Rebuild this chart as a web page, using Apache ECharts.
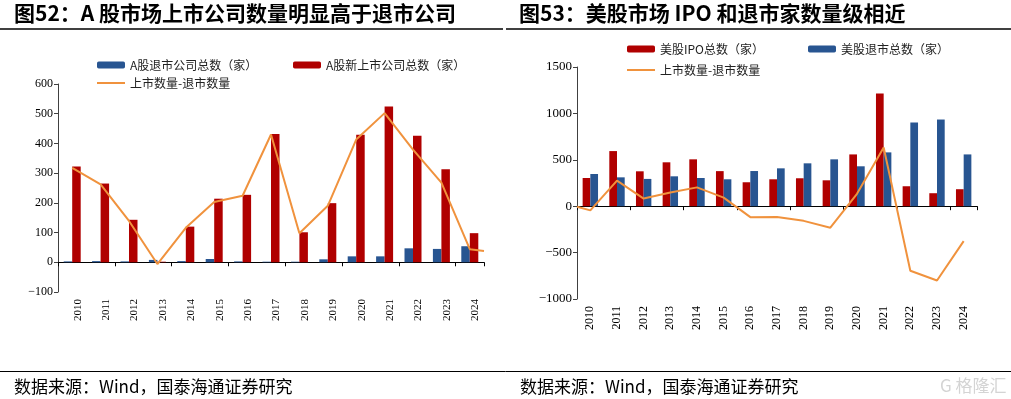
<!DOCTYPE html>
<html>
<head>
<meta charset="utf-8">
<script src="https://cdn.jsdelivr.net/npm/echarts@6/dist/echarts.min.js"></script>
<style>
  html, body { margin: 0; padding: 0; background: #fff; }
  #chart { width: 1011px; height: 399px; }
</style>
</head>
<body>
<div id="chart"></div>
<script>
  // 年份
  let years = ['2010', '2011', '2012', '2013', '2014', '2015', '2016', '2017', '2018', '2019', '2020', '2021', '2022', '2023', '2024']
  let yearNum = [2010, 2011, 2012, 2013, 2014, 2015, 2016, 2017, 2018, 2019, 2020, 2021, 2022, 2023, 2024]

  // 图52 A股
  let aDelist = [3, 4, 3, 8, 4, 11, 3, 2, 2, 10, 20, 20, 47, 45, 54]
  let aNew = [322, 265, 143, 2, 120, 214, 227, 432, 101, 199, 429, 524, 426, 313, 98]
  let aDiff = [318, 262, 139, -6, 116, 203, 224, 430, 98, 190, 413, 502, 379, 268, 44]
  let aDiffTail = [[2024.5, 38]]

  // 图53 美股
  let usIpo = [304, 594, 376, 473, 505, 378, 258, 290, 301, 279, 558, 1214, 215, 140, 183]
  let usDelist = [347, 311, 294, 322, 304, 290, 379, 408, 462, 505, 430, 580, 902, 934, 558]
  let usDiff = [-45, 276, 82, 148, 203, 92, -118, -116, -158, -232, 134, 632, -695, -800, -376]
  let usDiffHead = [[2009.5, -6]]

  let RED = '#b00000'
  let BLUE = '#285591'
  let ORANGE = '#f0923d'
  let CJK = '"Noto Sans CJK SC", sans-serif'
  let SERIF = '"Liberation Serif", serif'

  function minus (v) {
    return String(v).replace('-', '\u2212')
  }

  function catAxis (grid, fontSize, vAlign) {
    return [{
      type: 'category',
      gridIndex: grid,
      data: years,
      position: 'bottom',
      axisLine: { onZero: true, lineStyle: { color: '#000', width: 1 } },
      axisTick: { show: true, length: 4, lineStyle: { color: '#000' } },
      axisLabel: { show: false },
      splitLine: { show: false }
    }, {
      type: 'category',
      gridIndex: grid,
      data: years,
      position: 'bottom',
      axisLine: { show: false, onZero: false },
      axisTick: { show: false },
      axisLabel: {
        show: true,
        rotate: 90,
        margin: 7,
        color: '#000',
        fontFamily: SERIF,
        fontSize: fontSize,
        verticalAlign: vAlign
      }
    }, {
      type: 'value',
      gridIndex: grid,
      min: 2009.5,
      max: 2024.5,
      show: false
    }]
  }

  function valAxis (grid, min, max, step, fontSize) {
    return {
      type: 'value',
      gridIndex: grid,
      min: min,
      max: max,
      interval: step,
      axisLine: { show: true, lineStyle: { color: '#404040' } },
      axisTick: { show: true, length: 4, lineStyle: { color: '#404040' } },
      splitLine: { show: false },
      axisLabel: {
        color: '#000',
        fontFamily: SERIF,
        fontSize: fontSize,
        margin: 5,
        formatter: minus
      }
    }
  }

  function initChart () {
    let myChart = echarts.init(document.getElementById('chart'))
    let legendText = { color: '#222', fontFamily: CJK, fontSize: 12 }

    let option = {
      animation: false,
      backgroundColor: '#fff',
      grid: [
        { left: 58, top: 84, width: 426, height: 208 },
        { left: 577, top: 67, width: 400, height: 232 }
      ],
      xAxis: catAxis(0, 11, 'top').concat(catAxis(1, 12, 'middle')),
      yAxis: [
        valAxis(0, -100, 600, 100, 12),
        valAxis(1, -1000, 1500, 500, 13)
      ],
      legend: [
        { left: 92, top: 54, itemWidth: 28, itemHeight: 7, textStyle: legendText, data: ['A股退市公司总数（家）'] },
        { left: 288, top: 54, itemWidth: 28, itemHeight: 7, textStyle: legendText, data: ['A股新上市公司总数（家）'] },
        { left: 92, top: 72, itemWidth: 28, itemHeight: 2, textStyle: legendText, data: [{ name: '上市数量-退市数量', icon: 'rect' }] },
        { left: 622, top: 38, itemWidth: 28, itemHeight: 7, textStyle: legendText, data: ['美股IPO总数（家）'] },
        { left: 803, top: 38, itemWidth: 28, itemHeight: 7, textStyle: legendText, data: ['美股退市总数（家）'] },
        { left: 622, top: 59, itemWidth: 28, itemHeight: 2, textStyle: legendText, data: [{ name: '上市数量-退市数量 ', icon: 'rect' }] }
      ],
      series: [{
        name: 'A股退市公司总数（家）',
        type: 'bar',
        xAxisIndex: 0,
        yAxisIndex: 0,
        barWidth: 8.5,
        barGap: '0%',
        itemStyle: { color: BLUE },
        data: aDelist
      }, {
        name: 'A股新上市公司总数（家）',
        type: 'bar',
        xAxisIndex: 0,
        yAxisIndex: 0,
        barWidth: 8.5,
        barGap: '0%',
        itemStyle: { color: RED },
        data: aNew
      }, {
        name: '上市数量-退市数量',
        type: 'line',
        xAxisIndex: 2,
        yAxisIndex: 0,
        symbol: 'none',
        lineStyle: { color: ORANGE, width: 2 },
        itemStyle: { color: ORANGE },
        data: yearNum.map(function (y, i) { return [y, aDiff[i]] }).concat(aDiffTail)
      }, {
        name: '美股IPO总数（家）',
        type: 'bar',
        xAxisIndex: 3,
        yAxisIndex: 1,
        barWidth: 7.7,
        barGap: '0%',
        itemStyle: { color: RED },
        data: usIpo
      }, {
        name: '美股退市总数（家）',
        type: 'bar',
        xAxisIndex: 3,
        yAxisIndex: 1,
        barWidth: 7.7,
        barGap: '0%',
        itemStyle: { color: BLUE },
        data: usDelist
      }, {
        name: '上市数量-退市数量 ',
        type: 'line',
        xAxisIndex: 5,
        yAxisIndex: 1,
        symbol: 'none',
        lineStyle: { color: ORANGE, width: 2 },
        itemStyle: { color: ORANGE },
        data: usDiffHead.concat(yearNum.map(function (y, i) { return [y, usDiff[i]] }))
      }],
      graphic: [
        { type: 'text', left: 14, top: 3, style: { text: '图52：A 股市场上市公司数量明显高于退市公司', fill: '#000', font: 'bold 21px ' + CJK } },
        { type: 'text', left: 519, top: 3, style: { text: '图53：美股市场 IPO 和退市家数量级相近', fill: '#000', font: 'bold 21px ' + CJK } },
        { type: 'line', shape: { x1: 0, y1: 29, x2: 503, y2: 29 }, style: { stroke: '#000', lineWidth: 1.5 } },
        { type: 'line', shape: { x1: 506, y1: 29, x2: 1011, y2: 29 }, style: { stroke: '#000', lineWidth: 1.5 } },
        { type: 'line', shape: { x1: 0, y1: 371.5, x2: 1011, y2: 371.5 }, style: { stroke: '#000', lineWidth: 1 } },
        { type: 'text', left: 14, top: 378, style: { text: '数据来源：Wind，国泰海通证券研究', fill: '#000', font: '17px ' + CJK } },
        { type: 'text', left: 520, top: 378, style: { text: '数据来源：Wind，国泰海通证券研究', fill: '#000', font: '17px ' + CJK } },
        { type: 'text', left: 940, top: 377, style: { text: 'G 格隆汇', fill: '#d4d4d4', font: '17px ' + CJK } }
      ]
    }
    myChart.setOption(option)
  }

  initChart()
</script>
</body>
</html>
